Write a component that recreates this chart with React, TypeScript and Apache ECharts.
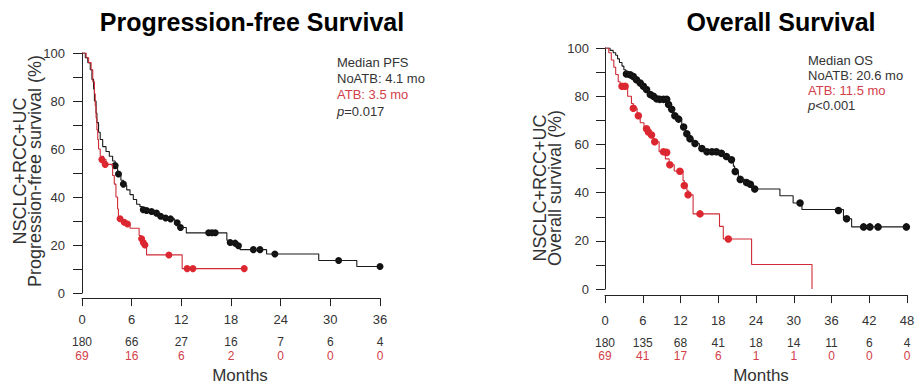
import React, { useEffect, useRef } from "react";
import * as echarts from "echarts";

const FONT = '"Liberation Sans", Arial, Helvetica, sans-serif';
const TITLE_FONT = '"Liberation Sans", Arial, sans-serif';
const BLACK = "#1a1a1a";
const RED = "#cf2b36";
const RED_DOT = "#e0262e";
const RED_TEXT = "#d3404a";

// ---- Progression-free survival (left) ----
const pfsTicks = [0, 6, 12, 18, 24, 30, 36];
const pfsAtRiskNoAtb = [180, 66, 27, 16, 7, 6, 4];
const pfsAtRiskAtb = [69, 16, 6, 2, 0, 0, 0];

const pfsNoAtbCurve: number[][] = [
  [0, 100], [0.4, 98], [0.7, 96], [1.0, 93], [1.2, 89], [1.4, 85], [1.5, 80], [1.7, 75],
  [1.8, 71], [2.0, 67], [2.2, 64], [2.5, 61], [2.9, 59], [3.3, 57], [3.7, 55], [4.0, 53],
  [4.3, 50], [4.7, 47], [5.0, 45], [5.4, 43], [5.8, 41], [6.2, 39], [6.6, 37], [7.0, 36],
  [7.3, 35], [7.6, 34.5], [8.2, 34.0], [8.8, 33.3], [9.3, 32.0], [9.9, 31.3], [10.5, 30.9],
  [11.2, 29.3], [11.7, 27.3], [12.6, 25.1], [17.5, 22.0], [17.8, 21.1], [18.3, 20.8],
  [18.7, 19.7], [19.1, 18.1], [22.3, 16.3], [28.6, 13.6], [33.2, 11.1], [36.0, 11.1],
];
const pfsNoAtbCensor: number[][] = [
  [4.0, 53.1], [4.4, 49.6], [5.0, 45.4], [7.4, 34.7], [7.8, 34.4], [8.4, 34.0], [9.0, 33.3],
  [9.5, 32.0], [10.1, 31.3], [10.7, 30.9], [11.5, 29.3], [11.9, 27.3], [15.3, 25.1],
  [15.7, 25.1], [16.1, 25.1], [17.9, 21.1], [18.5, 20.8], [18.9, 19.7], [20.7, 18.1],
  [21.5, 18.1], [23.3, 16.3], [31.0, 13.6], [36.0, 11.1],
];
const pfsAtbCurve: number[][] = [
  [0, 100], [0.5, 98], [0.8, 96], [1.1, 93], [1.3, 88], [1.5, 83], [1.6, 78], [1.7, 73],
  [1.8, 68], [1.9, 64], [2.0, 60], [2.2, 57], [2.6, 55.6], [2.9, 53.6], [3.7, 49],
  [3.9, 45.4], [4.1, 40], [4.3, 35], [4.4, 31.3], [4.9, 30.0], [5.3, 28.8], [5.8, 27],
  [6.9, 24], [7.1, 22.6], [7.35, 21.1], [7.5, 20.0], [7.8, 15.9], [12.1, 10.2], [19.6, 10.2],
];
const pfsAtbCensor: number[][] = [
  [2.4, 55.6], [2.8, 53.6], [4.6, 31.0], [5.1, 29.5], [5.5, 28.8], [7.2, 22.6], [7.4, 21.1],
  [7.6, 20.0], [10.5, 15.9], [12.7, 10.2], [13.4, 10.2], [19.6, 10.2],
];

// ---- Overall survival (right) ----
const osTicks = [0, 6, 12, 18, 24, 30, 36, 42, 48];
const osAtRiskNoAtb = [180, 135, 68, 41, 18, 14, 11, 6, 4];
const osAtRiskAtb = [69, 41, 17, 6, 1, 1, 0, 0, 0];

const osNoAtbCurve: number[][] = [
  [0, 100], [0.8, 99], [1.3, 98], [1.7, 97], [2.0, 95.5], [2.3, 94], [2.7, 92.5], [3.0, 91],
  [3.3, 90], [3.8, 89], [4.3, 88.2], [4.8, 86.8], [5.3, 85.5], [5.8, 84.1], [6.3, 82.8],
  [6.9, 80.7], [7.5, 80], [8.0, 78.9], [10.0, 76.6], [10.4, 74.6], [10.9, 71.9],
  [11.4, 70.5], [12.2, 67.2], [12.8, 64.4], [13.3, 62.4], [14.0, 60.4], [15.0, 58.3],
  [15.8, 57.0], [18.3, 56.3], [19.0, 55.0], [19.8, 53.6], [20.4, 51], [20.6, 48.8],
  [21.2, 45.5], [22.2, 44.2], [22.8, 43.5], [23.5, 41.5], [27.8, 38.7], [29.9, 35.7],
  [31.3, 33], [37.9, 29.2], [39.2, 25.8], [48, 25.8],
];
const osNoAtbCensor: number[][] = [
  [3.4, 89.2], [4.0, 88.9], [4.5, 88.2], [5.0, 86.8], [5.6, 85.5], [6.1, 84.1], [6.6, 82.8],
  [7.2, 80.7], [7.7, 80.0], [8.2, 78.9], [8.7, 78.7], [9.3, 78.7], [9.8, 78.7], [10.1, 76.6],
  [10.6, 74.6], [11.1, 71.9], [11.7, 70.5], [12.5, 67.2], [13.0, 64.4], [13.5, 62.4],
  [14.3, 60.4], [15.4, 58.3], [16.2, 57.0], [17.0, 57.0], [17.7, 57.0], [18.5, 56.3],
  [19.3, 55.0], [20.1, 53.6], [20.7, 48.8], [21.5, 45.5], [22.5, 44.2], [23.1, 43.5],
  [23.8, 41.5], [31.0, 35.7], [37.1, 32.6], [38.4, 29.2], [41.1, 25.8], [42.1, 25.8],
  [43.4, 25.8], [47.9, 25.8],
];
const osAtbCurve: number[][] = [
  [0, 100], [0.6, 98], [1.0, 95], [1.4, 92], [1.7, 89], [2.1, 86], [2.4, 84.1], [3.6, 80],
  [4.2, 77], [4.5, 75], [5.1, 72], [5.6, 69], [6.2, 66.5], [6.8, 65.2], [7.2, 63.9],
  [7.7, 61.1], [8.6, 57], [9.6, 54], [10.2, 51.6], [11.0, 49], [12.4, 45], [12.6, 43],
  [13.0, 41], [13.2, 39.1], [14.0, 31.2], [18.2, 26], [18.8, 20.8], [23.3, 10.2], [32.9, 0],
];
const osAtbCensor: number[][] = [
  [2.7, 84.1], [3.2, 84.1], [4.5, 75.0], [5.3, 71.9], [6.6, 66.5], [6.9, 65.2], [7.4, 63.9],
  [7.9, 61.1], [9.3, 57.0], [9.8, 56.7], [10.3, 51.6], [11.9, 48.9], [12.6, 43.0],
  [13.2, 39.1], [15.1, 31.2], [19.6, 20.8],
];

function buildOption() {
  const axisColor = "#222";
  const grids = [
    { left: 82, top: 53, width: 298, height: 245 },
    { left: 605, top: 48, width: 302, height: 245 },
  ];
  const cfg = [
    { ticks: pfsTicks, noAtb: pfsAtRiskNoAtb, atb: pfsAtRiskAtb, max: 36, offset: 5, lm: 15, bm: 38, rm: 52, ng: 68, pad: 18 },
    { ticks: osTicks, noAtb: osAtRiskNoAtb, atb: osAtRiskAtb, max: 48, offset: 6, lm: 19, bm: 42, rm: 55, ng: 70, pad: 10 },
  ];
  const xAxis: any[] = [];
  cfg.forEach((c, g) => {
    xAxis.push({
      type: "value", gridIndex: g, min: 0, max: c.max, interval: 6, position: "bottom", offset: c.offset,
      axisLine: { onZero: false, lineStyle: { color: axisColor, width: 1 } },
      axisTick: { length: 8, lineStyle: { color: axisColor } },
      axisLabel: { margin: c.lm, fontSize: 13, color: "#333", fontFamily: FONT },
      splitLine: { show: false },
    });
    xAxis.push({
      type: "value", gridIndex: g, min: 0, max: c.max, interval: 6, position: "bottom", offset: c.offset,
      axisLine: { show: false, onZero: false }, axisTick: { show: false }, splitLine: { show: false },
      axisLabel: {
        margin: c.bm, fontSize: 12, color: "#333", fontFamily: FONT,
        formatter: (v: number) => { const i = c.ticks.indexOf(v); return i >= 0 ? String(c.noAtb[i]) : ""; },
      },
    });
    xAxis.push({
      type: "value", gridIndex: g, min: 0, max: c.max, interval: 6, position: "bottom", offset: c.offset,
      axisLine: { show: false, onZero: false }, axisTick: { show: false }, splitLine: { show: false },
      axisLabel: {
        margin: c.rm, fontSize: 12, color: RED_TEXT, fontFamily: FONT,
        formatter: (v: number) => { const i = c.ticks.indexOf(v); return i >= 0 ? String(c.atb[i]) : ""; },
      },
      name: "Months", nameLocation: "middle", nameGap: c.ng,
      nameTextStyle: { fontSize: 17, color: "#333", fontFamily: FONT, padding: [0, 0, 0, c.pad] },
    });
  });
  const yAxis = [0, 1].map((g) => ({
    type: "value", gridIndex: g, min: 0, max: 100, interval: 10, offset: 2,
    axisLine: { show: true, lineStyle: { color: axisColor, width: 1 } },
    axisTick: { show: true, length: 9, lineStyle: { color: axisColor } },
    axisLabel: {
      margin: g === 0 ? 15 : 14, fontSize: 13, color: "#333", fontFamily: FONT,
      formatter: (v: number) => (v % 20 === 0 ? String(v) : ""),
    },
    splitLine: { show: false },
  }));

  const stepLine = (data: number[][], xi: number, yi: number, color: string) => ({
    type: "line", xAxisIndex: xi, yAxisIndex: yi, data, step: "end", showSymbol: false,
    lineStyle: { color, width: 1.1 }, itemStyle: { color }, silent: true,
  });
  const dots = (data: number[][], xi: number, yi: number, color: string, size: number) => ({
    type: "scatter", xAxisIndex: xi, yAxisIndex: yi, data, symbol: "circle", symbolSize: size,
    itemStyle: { color, opacity: 1 }, silent: true,
  });

  const series = [
    stepLine(pfsNoAtbCurve, 0, 0, BLACK),
    stepLine(pfsAtbCurve, 0, 0, RED),
    dots(pfsNoAtbCensor, 0, 0, "#111", 7),
    dots(pfsAtbCensor, 0, 0, RED_DOT, 7),
    stepLine(osNoAtbCurve, 3, 1, BLACK),
    stepLine(osAtbCurve, 3, 1, RED),
    dots(osNoAtbCensor, 3, 1, "#111", 7.5),
    dots(osAtbCensor, 3, 1, RED_DOT, 7.5),
  ];

  const txt = (x: number, y: number, text: string, color: string, extra: any = {}) => ({
    type: "text", x, y, silent: true,
    style: { text, fill: color, font: `13px ${FONT}`, verticalAlign: "middle", align: "left", ...extra },
  });
  const pText = (x: number, y: number, rest: string) => ({
    type: "text", x, y, silent: true,
    style: {
      text: `{i|p}{n|${rest}}`, verticalAlign: "middle", align: "left",
      rich: {
        i: { fontStyle: "italic", fontSize: 13, fontFamily: FONT, fill: "#333" },
        n: { fontSize: 13, fontFamily: FONT, fill: "#333" },
      },
    },
  });

  const graphic = [
    { type: "text", x: 252, y: 22, silent: true, style: { text: "Progression-free Survival", font: `bold 25px ${TITLE_FONT}`, fill: "#000", align: "center", verticalAlign: "middle" } },
    { type: "text", x: 781, y: 22, silent: true, style: { text: "Overall Survival", font: `bold 25px ${TITLE_FONT}`, fill: "#000", align: "center", verticalAlign: "middle" } },
    { type: "text", x: 27.5, y: 171, rotation: Math.PI / 2, silent: true, style: { text: "NSCLC+RCC+UC\nProgression-free survival (%)", font: `18px ${FONT}`, lineHeight: 15, fill: "#333", align: "center", verticalAlign: "middle" } },
    { type: "text", x: 547.5, y: 188, rotation: Math.PI / 2, silent: true, style: { text: "NSCLC+RCC+UC\nOverall survival (%)", font: `18px ${FONT}`, lineHeight: 15, fill: "#333", align: "center", verticalAlign: "middle" } },
    txt(337, 62, "Median PFS", "#333"),
    txt(337, 78, "NoATB: 4.1 mo", "#333"),
    txt(337, 94, "ATB: 3.5 mo", RED_TEXT),
    pText(337, 111, "=0.017"),
    txt(808, 60, "Median OS", "#333"),
    txt(808, 75.5, "NoATB: 20.6 mo", "#333"),
    txt(808, 90, "ATB: 11.5 mo", RED_TEXT),
    pText(808, 105, "<0.001"),
  ];

  return {
    animation: false,
    backgroundColor: "#fff",
    grid: grids,
    xAxis,
    yAxis,
    series,
    graphic,
  };
}

export default function App() {
  const ref = useRef<HTMLDivElement>(null);
  useEffect(() => {
    if (!ref.current) return;
    const chart = echarts.init(ref.current, null, { renderer: "svg" });
    chart.setOption(buildOption() as any);
    return () => chart.dispose();
  }, []);
  return (
    <div
      ref={ref}
      style={{ position: "absolute", left: 0, top: 0, width: 920, height: 389, background: "#fff" }}
    />
  );
}
